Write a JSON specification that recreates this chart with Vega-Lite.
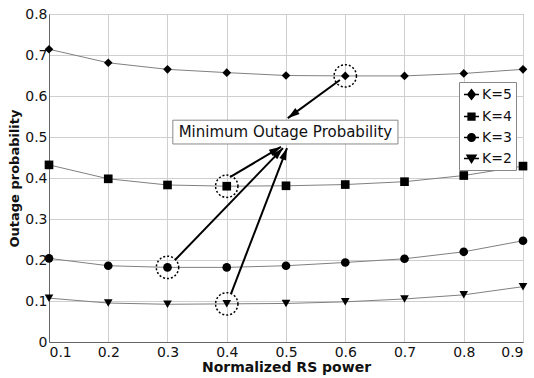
{
  "$schema": "https://vega.github.io/schema/vega-lite/v6.json",
  "width": 474,
  "height": 328,
  "autosize": {"type": "none"},
  "padding": {"left": 49, "top": 14, "right": 11, "bottom": 36},
  "background": "white",
  "config": {
    "font": "DejaVu Sans",
    "view": {"stroke": "#999"},
    "axis": {
      "grid": true,
      "gridColor": "#cfcfcf",
      "domainColor": "#666",
      "ticks": false,
      "labelFont": "DejaVu Sans",
      "labelFontSize": 14,
      "labelColor": "#111",
      "titleFont": "DejaVu Sans",
      "titleFontWeight": "bold",
      "titleColor": "#111"
    }
  },
  "datasets": {
    "curves": [
      {"x": 0.1, "y": 0.714, "K": "K=5"}, {"x": 0.2, "y": 0.681, "K": "K=5"}, {"x": 0.3, "y": 0.665, "K": "K=5"},
      {"x": 0.4, "y": 0.657, "K": "K=5"}, {"x": 0.5, "y": 0.650, "K": "K=5"}, {"x": 0.6, "y": 0.649, "K": "K=5"},
      {"x": 0.7, "y": 0.649, "K": "K=5"}, {"x": 0.8, "y": 0.655, "K": "K=5"}, {"x": 0.9, "y": 0.665, "K": "K=5"},
      {"x": 0.1, "y": 0.432, "K": "K=4"}, {"x": 0.2, "y": 0.398, "K": "K=4"}, {"x": 0.3, "y": 0.383, "K": "K=4"},
      {"x": 0.4, "y": 0.380, "K": "K=4"}, {"x": 0.5, "y": 0.381, "K": "K=4"}, {"x": 0.6, "y": 0.384, "K": "K=4"},
      {"x": 0.7, "y": 0.391, "K": "K=4"}, {"x": 0.8, "y": 0.406, "K": "K=4"}, {"x": 0.9, "y": 0.429, "K": "K=4"},
      {"x": 0.1, "y": 0.204, "K": "K=3"}, {"x": 0.2, "y": 0.186, "K": "K=3"}, {"x": 0.3, "y": 0.182, "K": "K=3"},
      {"x": 0.4, "y": 0.182, "K": "K=3"}, {"x": 0.5, "y": 0.186, "K": "K=3"}, {"x": 0.6, "y": 0.194, "K": "K=3"},
      {"x": 0.7, "y": 0.203, "K": "K=3"}, {"x": 0.8, "y": 0.220, "K": "K=3"}, {"x": 0.9, "y": 0.247, "K": "K=3"},
      {"x": 0.1, "y": 0.107, "K": "K=2"}, {"x": 0.2, "y": 0.095, "K": "K=2"}, {"x": 0.3, "y": 0.092, "K": "K=2"},
      {"x": 0.4, "y": 0.093, "K": "K=2"}, {"x": 0.5, "y": 0.094, "K": "K=2"}, {"x": 0.6, "y": 0.098, "K": "K=2"},
      {"x": 0.7, "y": 0.105, "K": "K=2"}, {"x": 0.8, "y": 0.115, "K": "K=2"}, {"x": 0.9, "y": 0.135, "K": "K=2"}
    ],
    "mins": [
      {"x": 0.6, "y": 0.649, "K": "K=5"},
      {"x": 0.4, "y": 0.380, "K": "K=4"},
      {"x": 0.3, "y": 0.182, "K": "K=3"},
      {"x": 0.4, "y": 0.093, "K": "K=2"}
    ],
    "arrows": [
      {"K": "K=5", "x": 0.591, "y": 0.639, "x2": 0.503, "y2": 0.546},
      {"K": "K=4", "x": 0.4055, "y": 0.402, "x2": 0.4916, "y2": 0.476},
      {"K": "K=3", "x": 0.3127, "y": 0.200, "x2": 0.495, "y2": 0.473},
      {"K": "K=2", "x": 0.407, "y": 0.117, "x2": 0.5017, "y2": 0.473}
    ],
    "box": [
      {"x": 0.309, "x2": 0.689, "y": 0.483, "y2": 0.541, "xc": 0.499, "yc": 0.512, "label": "Minimum Outage Probability"}
    ]
  },
  "layer": [
    {
      "data": {"name": "curves"},
      "mark": {"type": "line", "color": "#808080", "strokeWidth": 1},
      "encoding": {
        "x": {"field": "x", "type": "quantitative", "scale": {"domain": [0.1, 0.9], "nice": false, "zero": false},
              "axis": {"title": "Normalized RS power", "titleFontSize": 14, "values": [0.1,0.2,0.3,0.4,0.5,0.6,0.7,0.8,0.9], "format": ".1f", "labelPadding": 3, "titlePadding": 1}},
        "y": {"field": "y", "type": "quantitative", "scale": {"domain": [0, 0.8], "nice": false},
              "axis": {"title": "Outage probability", "titleFontSize": 13, "values": [0,0.1,0.2,0.3,0.4,0.5,0.6,0.7,0.8], "labelExpr": "datum.value === 0 ? '0' : format(datum.value, '.1f')", "labelPadding": 2, "titlePadding": 3}},
        "detail": {"field": "K"}
      }
    },
    {
      "data": {"name": "curves"},
      "mark": {"type": "point", "filled": true, "color": "black", "opacity": 1, "size": 75},
      "encoding": {
        "x": {"field": "x", "type": "quantitative"},
        "y": {"field": "y", "type": "quantitative"},
        "shape": {"field": "K", "type": "nominal", "legend": null,
                  "scale": {"domain": ["K=5", "K=4", "K=3", "K=2"], "range": ["diamond", "square", "circle", "triangle-down"]}}
      }
    },
    {
      "data": {"name": "mins"},
      "mark": {"type": "point", "shape": "circle", "filled": false, "color": "black", "opacity": 1, "size": 500, "strokeWidth": 1.5, "strokeDash": [2, 2]},
      "encoding": {
        "x": {"field": "x", "type": "quantitative"},
        "y": {"field": "y", "type": "quantitative"}
      }
    },
    {
      "data": {"name": "box"},
      "mark": {"type": "rect", "fill": "white", "stroke": "#888", "strokeWidth": 1},
      "encoding": {
        "x": {"field": "x", "type": "quantitative"},
        "x2": {"field": "x2"},
        "y": {"field": "y", "type": "quantitative"},
        "y2": {"field": "y2"}
      }
    },
    {
      "data": {"name": "box"},
      "mark": {"type": "text", "font": "DejaVu Sans", "fontSize": 15, "color": "#111", "align": "center", "baseline": "middle"},
      "encoding": {
        "x": {"field": "xc", "type": "quantitative"},
        "y": {"field": "yc", "type": "quantitative"},
        "text": {"field": "label"}
      }
    },
    {
      "data": {"name": "arrows"},
      "mark": {"type": "rule", "color": "black", "strokeWidth": 2},
      "encoding": {
        "x": {"field": "x", "type": "quantitative"},
        "y": {"field": "y", "type": "quantitative"},
        "x2": {"field": "x2"},
        "y2": {"field": "y2"}
      }
    },
    {
      "data": {"name": "arrows"},
      "transform": [{"filter": "datum.K === 'K=5'"}],
      "mark": {"type": "point", "shape": "M0,0L-0.3,1L0.3,1Z", "angle": 233.6, "size": 576, "filled": true, "color": "black", "opacity": 1},
      "encoding": {
        "x": {"field": "x2", "type": "quantitative"},
        "y": {"field": "y2", "type": "quantitative"}
      }
    },
    {
      "data": {"name": "arrows"},
      "transform": [{"filter": "datum.K === 'K=4'"}],
      "mark": {"type": "point", "shape": "M0,0L-0.3,1L0.3,1Z", "angle": 59.5, "size": 576, "filled": true, "color": "black", "opacity": 1},
      "encoding": {
        "x": {"field": "x2", "type": "quantitative"},
        "y": {"field": "y2", "type": "quantitative"}
      }
    },
    {
      "data": {"name": "arrows"},
      "transform": [{"filter": "datum.K === 'K=3'"}],
      "mark": {"type": "point", "shape": "M0,0L-0.3,1L0.3,1Z", "angle": 43.9, "size": 576, "filled": true, "color": "black", "opacity": 1},
      "encoding": {
        "x": {"field": "x2", "type": "quantitative"},
        "y": {"field": "y2", "type": "quantitative"}
      }
    },
    {
      "data": {"name": "arrows"},
      "transform": [{"filter": "datum.K === 'K=2'"}],
      "mark": {"type": "point", "shape": "M0,0L-0.3,1L0.3,1Z", "angle": 21, "size": 576, "filled": true, "color": "black", "opacity": 1},
      "encoding": {
        "x": {"field": "x2", "type": "quantitative"},
        "y": {"field": "y2", "type": "quantitative"}
      }
    },
    {
      "data": {"name": "curves"},
      "transform": [{"filter": "false"}],
      "mark": {"type": "point", "filled": true, "color": "black", "stroke": "black", "strokeWidth": 1, "opacity": 1},
      "encoding": {
        "x": {"field": "x", "type": "quantitative"},
        "y": {"field": "y", "type": "quantitative"},
        "shape": {"field": "K", "type": "nominal",
                  "scale": {"domain": ["K=5", "K=4", "K=3", "K=2"],
                            "range": ["M-1,0H1M0,-0.65L0.5,0L0,0.65L-0.5,0Z", "M-1,0H1M-0.45,-0.45H0.45V0.45H-0.45Z", "M-1,0H1M0.5,0A0.5,0.5,0,1,1,-0.5,0A0.5,0.5,0,1,1,0.5,0Z", "M-1,0H1M-0.6,-0.45L0.6,-0.45L0,0.55Z"]},
                  "legend": {"title": null, "orient": "none", "legendX": 410, "legendY": 68,
                             "strokeColor": "#888", "fillColor": "white", "padding": 4,
                             "labelFont": "DejaVu Sans", "labelFontSize": 14, "labelColor": "#111", "labelOffset": 2,
                             "symbolSize": 225, "rowPadding": 5,
                             "encode": {"symbols": {"update": {"fill": {"value": "black"}, "stroke": {"value": "black"}, "strokeWidth": {"value": 1}, "opacity": {"value": 1}}}}}}
      }
    }
  ],
  "resolve": {"scale": {"shape": "independent"}}
}
